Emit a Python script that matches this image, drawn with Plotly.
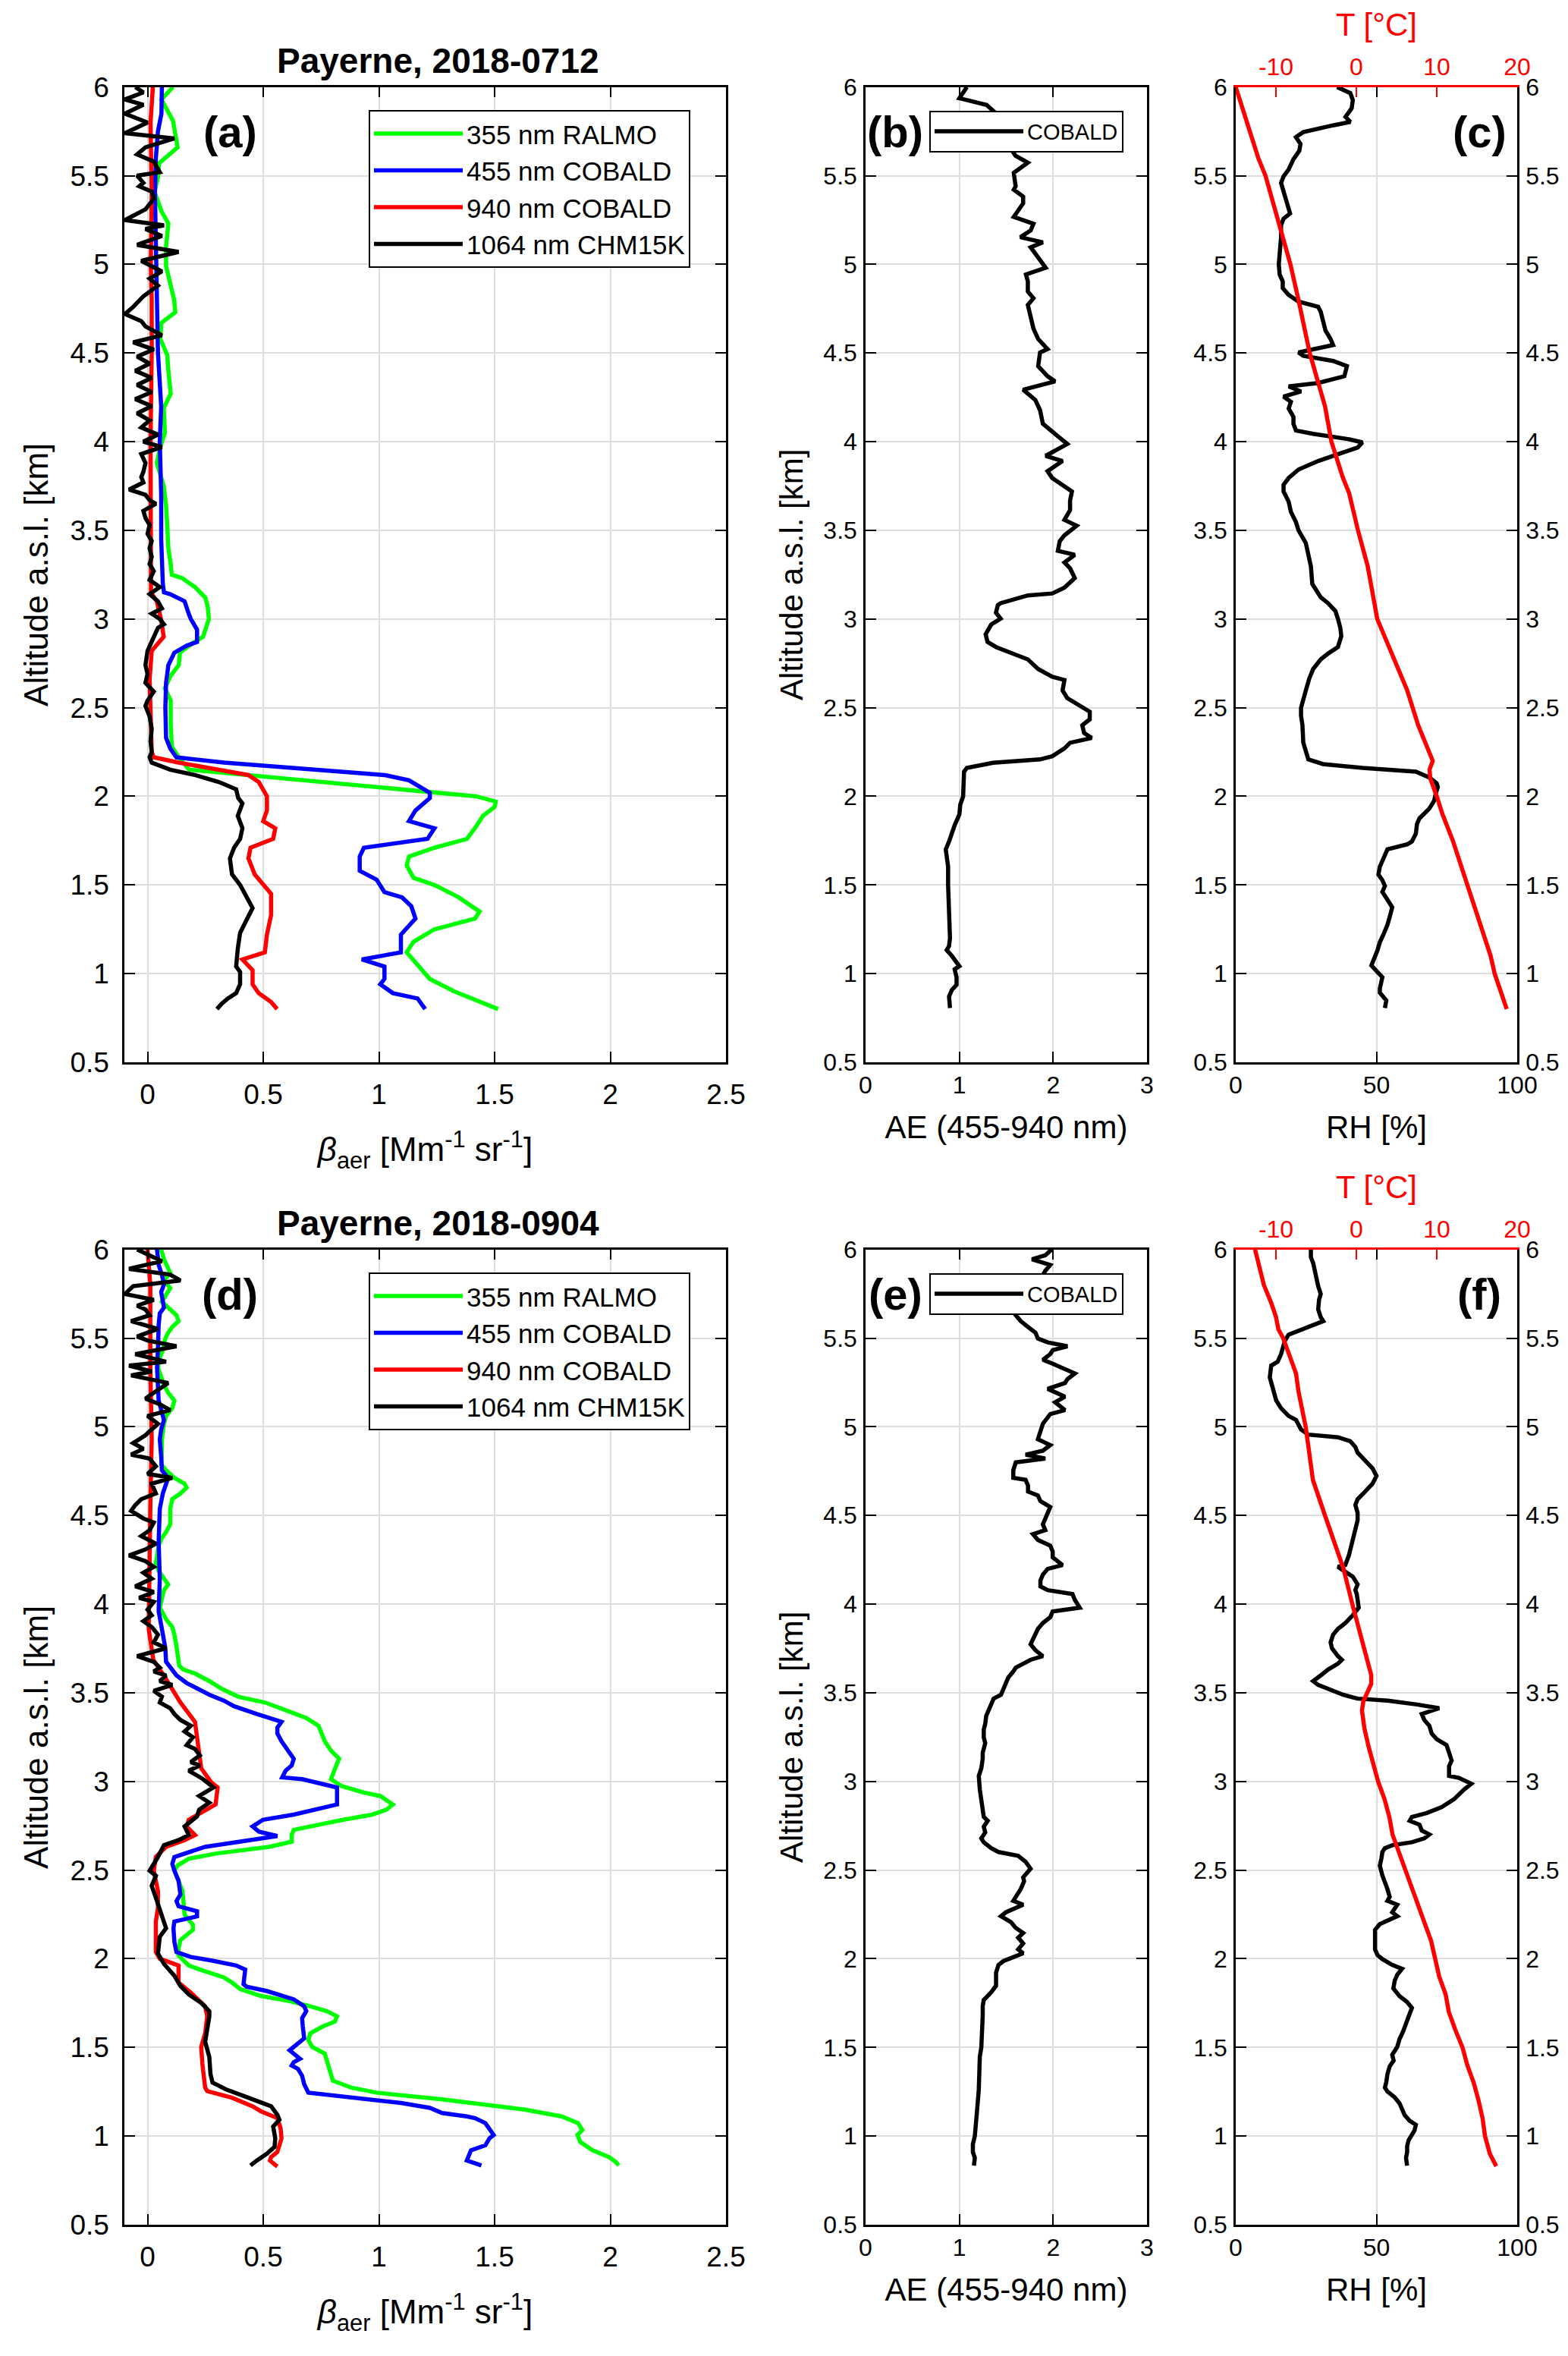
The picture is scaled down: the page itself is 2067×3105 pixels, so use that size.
"""
Perfiles verticales de aerosol sobre Payerne (2018-0712 y 2018-0904):
retrodispersión, exponente de Ångström, humedad relativa y temperatura.
"""

import plotly.graph_objects as go

FUENTE = "Liberation Sans, Arial, Helvetica, sans-serif"

# Cada perfil es una lista de pares (altitud km, valor).
# ---------------- 2018-0712 ----------------
A_355 = [(6.00, 0.11), (5.93, 0.06), (5.81, 0.11), (5.66, 0.13), (5.57, 0.05), (5.49, 0.045), (5.41, 0.03),
         (5.30, 0.06), (5.23, 0.09), (5.10, 0.08), (4.99, 0.08), (4.88, 0.10), (4.80, 0.115), (4.73, 0.12),
         (4.67, 0.06), (4.58, 0.055), (4.49, 0.085), (4.40, 0.09), (4.27, 0.10), (4.19, 0.07), (4.05, 0.075),
         (3.97, 0.055), (3.88, 0.04), (3.75, 0.07), (3.64, 0.08), (3.53, 0.085), (3.40, 0.09), (3.31, 0.10),
         (3.25, 0.105), (3.23, 0.15), (3.18, 0.205), (3.12, 0.25), (3.07, 0.26), (3.00, 0.265), (2.90, 0.24),
         (2.86, 0.19), (2.81, 0.14), (2.74, 0.135), (2.68, 0.10), (2.61, 0.075), (2.54, 0.10), (2.41, 0.10),
         (2.28, 0.105), (2.22, 0.135), (2.15, 0.18), (2.00, 1.42), (1.97, 1.505), (1.94, 1.50), (1.89, 1.45),
         (1.82, 1.415), (1.76, 1.38), (1.71, 1.24), (1.66, 1.13), (1.61, 1.12), (1.54, 1.15), (1.50, 1.24),
         (1.43, 1.345), (1.35, 1.435), (1.31, 1.415), (1.25, 1.24), (1.18, 1.15), (1.12, 1.12), (1.05, 1.165),
         (0.97, 1.22), (0.90, 1.325), (0.84, 1.435), (0.80, 1.515)]

A_455 = [(6.00, 0.062), (5.85, 0.06), (5.75, 0.045), (5.60, 0.036), (5.40, 0.032), (5.00, 0.036), (4.70, 0.041),
         (4.50, 0.045), (4.20, 0.059), (4.00, 0.053), (3.70, 0.059), (3.45, 0.059), (3.20, 0.066), (3.15, 0.071),
         (3.14, 0.098), (3.10, 0.16), (3.03, 0.178), (3.00, 0.187), (2.94, 0.214), (2.87, 0.214), (2.85, 0.17),
         (2.81, 0.116), (2.74, 0.09), (2.64, 0.08), (2.50, 0.077), (2.33, 0.08), (2.27, 0.098), (2.22, 0.125),
         (2.19, 0.33), (2.12, 1.024), (2.09, 1.13), (2.02, 1.22), (1.99, 1.22), (1.92, 1.158), (1.86, 1.13),
         (1.82, 1.24), (1.76, 1.21), (1.71, 0.935), (1.66, 0.917), (1.58, 0.917), (1.53, 0.99), (1.46, 1.024),
         (1.43, 1.10), (1.38, 1.14), (1.31, 1.158), (1.22, 1.095), (1.12, 1.095), (1.08, 0.926), (1.04, 1.024),
         (0.97, 1.024), (0.94, 1.006), (0.89, 1.06), (0.86, 1.167), (0.80, 1.20)]

A_940 = [(6.00, 0.023), (5.80, 0.013), (5.40, 0.018), (5.00, 0.014), (4.80, 0.018), (4.50, 0.018), (4.00, 0.013),
         (3.50, 0.012), (3.15, 0.015), (3.10, 0.04), (3.00, 0.058), (2.90, 0.07), (2.86, 0.045), (2.82, 0.018),
         (2.66, 0.009), (2.41, 0.013), (2.25, 0.018), (2.22, 0.027), (2.19, 0.134), (2.12, 0.436), (2.08, 0.481),
         (2.00, 0.516), (1.92, 0.516), (1.86, 0.50), (1.82, 0.552), (1.76, 0.543), (1.71, 0.445), (1.65, 0.436),
         (1.56, 0.463), (1.45, 0.534), (1.33, 0.534), (1.22, 0.516), (1.12, 0.507), (1.08, 0.41), (1.02, 0.454),
         (0.94, 0.454), (0.89, 0.48), (0.84, 0.534), (0.80, 0.56)]

A_1064 = [(6.00, -0.053), (5.97, -0.018), (5.93, -0.098), (5.90, -0.018), (5.85, -0.098), (5.80, 0.0),
          (5.74, -0.098), (5.71, 0.116), (5.66, -0.009), (5.62, -0.045), (5.58, 0.027), (5.52, 0.053),
          (5.50, -0.045), (5.46, -0.018), (5.44, -0.036), (5.41, 0.018), (5.37, 0.027), (5.31, -0.009),
          (5.25, -0.098), (5.22, 0.071), (5.20, -0.009), (5.16, 0.062), (5.11, -0.045), (5.07, 0.134),
          (5.02, -0.027), (4.96, 0.062), (4.92, 0.009), (4.88, 0.045), (4.82, -0.018), (4.76, -0.062),
          (4.72, -0.098), (4.68, -0.027), (4.65, -0.009), (4.60, 0.062), (4.56, -0.062), (4.52, 0.027),
          (4.48, -0.045), (4.44, 0.009), (4.40, -0.053), (4.36, 0.018), (4.32, -0.045), (4.28, 0.018),
          (4.24, -0.053), (4.20, 0.018), (4.16, -0.045), (4.12, 0.009), (4.08, -0.027), (4.04, 0.045),
          (4.00, -0.018), (3.97, 0.062), (3.93, -0.027), (3.88, -0.009), (3.83, -0.018), (3.80, -0.027),
          (3.77, -0.018), (3.75, -0.045), (3.73, -0.080), (3.70, -0.009), (3.67, 0.009), (3.65, 0.036),
          (3.61, -0.018), (3.57, -0.009), (3.53, 0.009), (3.48, 0.0), (3.44, 0.018), (3.40, 0.009),
          (3.35, 0.018), (3.31, 0.009), (3.27, 0.027), (3.22, 0.009), (3.18, 0.053), (3.14, 0.009),
          (3.10, 0.045), (3.06, 0.062), (3.03, 0.018), (3.00, 0.053), (2.97, 0.071), (2.95, 0.045),
          (2.90, 0.027), (2.82, 0.0), (2.74, -0.009), (2.69, 0.0), (2.64, -0.009), (2.59, 0.027), (2.54, 0.0),
          (2.51, -0.009), (2.45, 0.009), (2.38, 0.018), (2.31, 0.013), (2.25, 0.018), (2.22, 0.009),
          (2.19, 0.018), (2.15, 0.098), (2.12, 0.205), (2.08, 0.31), (2.04, 0.383), (1.99, 0.392), (1.96, 0.41),
          (1.89, 0.39), (1.82, 0.41), (1.76, 0.40), (1.71, 0.374), (1.65, 0.356), (1.56, 0.365), (1.50, 0.40),
          (1.43, 0.427), (1.37, 0.454), (1.30, 0.427), (1.23, 0.40), (1.14, 0.39), (1.04, 0.383), (1.01, 0.40),
          (0.94, 0.40), (0.89, 0.383), (0.86, 0.347), (0.83, 0.32), (0.80, 0.30)]

AE_0712 = [(6.000, 1.08), (5.937, 1.00), (5.899, 1.29), (5.80, 1.50), (5.70, 1.55), (5.650, 1.55), (5.612, 1.60),
           (5.574, 1.73), (5.516, 1.58), (5.440, 1.60), (5.421, 1.58), (5.382, 1.68), (5.344, 1.68), (5.268, 1.58),
           (5.229, 1.79), (5.191, 1.76), (5.153, 1.65), (5.124, 1.89), (5.096, 1.76), (5.038, 1.84), (4.981, 1.92),
           (4.943, 1.71), (4.904, 1.73), (4.847, 1.73), (4.809, 1.79), (4.771, 1.73), (4.713, 1.76), (4.637, 1.79),
           (4.579, 1.84), (4.522, 1.94), (4.503, 1.86), (4.426, 1.84), (4.369, 1.94), (4.340, 2.02), (4.293, 1.68),
           (4.235, 1.81), (4.178, 1.86), (4.101, 1.89), (4.044, 2.02), (3.987, 2.15), (3.920, 1.92), (3.891, 2.10),
           (3.834, 1.94), (3.795, 1.99), (3.719, 2.20), (3.668, 2.18), (3.614, 2.18), (3.559, 2.12), (3.526, 2.25),
           (3.472, 2.12), (3.439, 2.07), (3.384, 2.05), (3.362, 2.23), (3.319, 2.12), (3.286, 2.18), (3.231, 2.23),
           (3.177, 2.12), (3.144, 1.99), (3.133, 1.73), (3.089, 1.44), (3.078, 1.41), (3.035, 1.39), (3.002, 1.44),
           (2.969, 1.34), (2.914, 1.28), (2.871, 1.30), (2.842, 1.39), (2.805, 1.57), (2.772, 1.73), (2.718, 1.84),
           (2.674, 1.99), (2.656, 2.12), (2.597, 2.10), (2.554, 2.15), (2.521, 2.25), (2.477, 2.39), (2.434, 2.39),
           (2.401, 2.31), (2.357, 2.33), (2.329, 2.41), (2.302, 2.18), (2.270, 2.12), (2.226, 1.99), (2.208, 1.86),
           (2.189, 1.36), (2.160, 1.08), (2.139, 1.05), (2.095, 1.05), (1.999, 1.04), (1.953, 1.01), (1.898, 1.00),
           (1.837, 0.95), (1.800, 0.93), (1.745, 0.89), (1.701, 0.855), (1.658, 0.865), (1.603, 0.88), (1.500, 0.88),
           (1.400, 0.89), (1.299, 0.90), (1.199, 0.90), (1.155, 0.89), (1.133, 0.865), (1.100, 0.92), (1.068, 0.97),
           (1.042, 1.00), (1.024, 0.95), (0.980, 0.97), (0.937, 0.97), (0.908, 0.92), (0.871, 0.89), (0.838, 0.90),
           (0.806, 0.90)]

RH_0712 = [(6.000, 36.0), (5.966, 40.7), (5.927, 41.6), (5.880, 41.2), (5.832, 39.0), (5.803, 40.7), (5.784, 34.6),
           (5.746, 24.0), (5.717, 21.4), (5.679, 23.0), (5.641, 22.6), (5.593, 20.5), (5.535, 18.8), (5.497, 17.0),
           (5.459, 16.1), (5.411, 17.0), (5.363, 17.9), (5.325, 18.8), (5.287, 19.3), (5.258, 17.0), (5.220, 16.1),
           (5.153, 16.1), (5.086, 15.8), (5.000, 15.3), (4.943, 15.6), (4.904, 16.7), (4.866, 16.7), (4.828, 18.8),
           (4.790, 22.3), (4.761, 29.3), (4.732, 30.2), (4.675, 31.0), (4.627, 31.9), (4.579, 33.7), (4.545, 34.6),
           (4.503, 22.3), (4.484, 24.0), (4.455, 34.6), (4.426, 39.5), (4.369, 38.6), (4.331, 29.3), (4.312, 18.8),
           (4.283, 23.2), (4.254, 17.0), (4.225, 19.6), (4.187, 18.8), (4.140, 20.5), (4.101, 20.5), (4.063, 21.4),
           (4.044, 27.5), (4.015, 39.8), (3.996, 45.0), (3.967, 43.3), (3.929, 36.3), (3.891, 29.3), (3.843, 22.3),
           (3.795, 18.8), (3.757, 17.0), (3.719, 17.0), (3.662, 18.8), (3.604, 19.6), (3.547, 21.4), (3.500, 22.3),
           (3.428, 24.9), (3.362, 25.8), (3.297, 26.7), (3.198, 27.2), (3.144, 29.3), (3.122, 30.2), (3.089, 32.8),
           (3.045, 35.4), (3.002, 36.3), (2.947, 37.2), (2.903, 37.5), (2.842, 36.3), (2.805, 32.8), (2.772, 30.2),
           (2.718, 27.5), (2.663, 26.1), (2.597, 24.9), (2.554, 24.0), (2.499, 23.2), (2.455, 23.2), (2.401, 23.7),
           (2.302, 24.0), (2.248, 24.9), (2.208, 25.8), (2.182, 31.0), (2.160, 45.0), (2.139, 64.0), (2.106, 68.8),
           (2.073, 71.4), (2.051, 71.8), (2.018, 71.1), (1.975, 70.5), (1.931, 68.8), (1.876, 65.3), (1.844, 64.4),
           (1.789, 64.0), (1.745, 62.6), (1.730, 61.0), (1.701, 53.9), (1.669, 53.0), (1.603, 51.2), (1.559, 50.7),
           (1.527, 52.1), (1.494, 53.0), (1.461, 52.1), (1.417, 53.9), (1.374, 55.6), (1.319, 54.7), (1.275, 53.9),
           (1.221, 52.5), (1.177, 51.2), (1.133, 50.4), (1.090, 49.5), (1.046, 48.2), (1.024, 49.5), (0.980, 52.1),
           (0.915, 51.2), (0.893, 51.2), (0.849, 53.5), (0.806, 53.0)]

T_0712 = [(6.0, -15.0), (5.8, -13.6), (5.6, -12.2), (5.5, -11.3), (5.35, -10.4), (5.2, -9.4), (5.0, -8.2),
          (4.8, -7.2), (4.5, -5.8), (4.2, -3.9), (4.0, -3.1), (3.8, -1.7), (3.71, -0.9), (3.5, 0.2), (3.3, 1.4),
          (3.0, 2.6), (2.8, 4.5), (2.6, 6.3), (2.4, 7.7), (2.25, 9.1), (2.2, 9.5), (2.15, 9.1), (2.1, 9.2),
          (2.0, 10.0), (1.9, 10.7), (1.75, 12.0), (1.5, 13.8), (1.3, 15.2), (1.1, 16.7), (1.0, 17.2), (0.9, 18.0),
          (0.8, 18.7)]

# ---------------- 2018-0904 ----------------
D_355 = [(6.000, 0.059), (5.945, 0.071), (5.869, 0.098), (5.825, 0.071), (5.782, 0.098), (5.738, 0.080),
         (5.705, 0.062), (5.672, 0.089), (5.629, 0.125), (5.596, 0.134), (5.563, 0.107), (5.531, 0.089),
         (5.498, 0.077), (5.432, 0.066), (5.389, 0.053), (5.334, 0.045), (5.269, 0.062), (5.236, 0.071),
         (5.192, 0.089), (5.148, 0.116), (5.105, 0.107), (5.061, 0.080), (5.017, 0.071), (4.930, 0.062),
         (4.854, 0.062), (4.788, 0.059), (4.755, 0.080), (4.712, 0.116), (4.679, 0.160), (4.657, 0.169),
         (4.624, 0.142), (4.592, 0.107), (4.537, 0.098), (4.450, 0.098), (4.406, 0.080), (4.373, 0.062),
         (4.330, 0.048), (4.275, 0.041), (4.231, 0.036), (4.188, 0.048), (4.144, 0.071), (4.111, 0.089),
         (4.079, 0.071), (4.024, 0.059), (3.980, 0.053), (3.959, 0.062), (3.915, 0.080), (3.871, 0.107),
         (3.828, 0.116), (3.762, 0.125), (3.697, 0.130), (3.653, 0.137), (3.631, 0.155), (3.609, 0.205),
         (3.566, 0.267), (3.522, 0.321), (3.478, 0.392), (3.445, 0.508), (3.402, 0.597), (3.358, 0.686),
         (3.314, 0.739), (3.260, 0.757), (3.227, 0.766), (3.173, 0.793), (3.129, 0.828), (3.071, 0.810),
         (3.013, 0.793), (2.975, 0.837), (2.937, 0.935), (2.918, 1.006), (2.889, 1.042), (2.870, 1.060),
         (2.841, 1.033), (2.813, 0.971), (2.784, 0.846), (2.755, 0.739), (2.727, 0.632), (2.698, 0.623),
         (2.660, 0.623), (2.631, 0.525), (2.593, 0.294), (2.564, 0.178), (2.526, 0.130), (2.497, 0.116),
         (2.440, 0.134), (2.382, 0.151), (2.325, 0.155), (2.249, 0.160), (2.220, 0.178), (2.191, 0.196),
         (2.163, 0.196), (2.134, 0.169), (2.105, 0.142), (2.057, 0.134), (2.019, 0.134), (1.996, 0.151),
         (1.962, 0.178), (1.933, 0.240), (1.895, 0.329), (1.866, 0.365), (1.828, 0.401), (1.790, 0.490),
         (1.761, 0.614), (1.732, 0.703), (1.704, 0.775), (1.675, 0.819), (1.646, 0.810), (1.618, 0.757),
         (1.579, 0.703), (1.541, 0.695), (1.503, 0.712), (1.465, 0.766), (1.426, 0.775), (1.369, 0.784),
         (1.312, 0.801), (1.273, 0.882), (1.245, 0.988), (1.207, 1.273), (1.178, 1.451), (1.149, 1.630),
         (1.111, 1.790), (1.073, 1.861), (1.034, 1.879), (1.006, 1.858), (0.967, 1.870), (0.920, 1.923),
         (0.881, 1.995), (0.853, 2.025), (0.834, 2.036)]

D_455 = [(6.000, 0.041), (5.913, 0.048), (5.858, 0.062), (5.803, 0.071), (5.760, 0.059), (5.672, 0.071),
         (5.640, 0.053), (5.574, 0.048), (5.432, 0.045), (5.334, 0.041), (5.148, 0.048), (5.083, 0.062),
         (5.039, 0.071), (4.985, 0.059), (4.930, 0.053), (4.832, 0.059), (4.755, 0.062), (4.712, 0.089),
         (4.679, 0.080), (4.624, 0.066), (4.537, 0.053), (4.352, 0.048), (4.144, 0.053), (3.959, 0.048),
         (3.860, 0.062), (3.751, 0.077), (3.675, 0.080), (3.642, 0.098), (3.598, 0.125), (3.555, 0.169),
         (3.522, 0.214), (3.489, 0.267), (3.456, 0.329), (3.424, 0.374), (3.380, 0.472), (3.336, 0.579),
         (3.303, 0.561), (3.271, 0.561), (3.227, 0.579), (3.166, 0.614), (3.128, 0.632), (3.090, 0.623),
         (3.061, 0.597), (3.023, 0.582), (3.013, 0.668), (2.966, 0.819), (2.870, 0.819), (2.813, 0.632),
         (2.784, 0.499), (2.746, 0.454), (2.717, 0.481), (2.692, 0.561), (2.631, 0.249), (2.574, 0.116),
         (2.535, 0.107), (2.497, 0.116), (2.440, 0.134), (2.363, 0.142), (2.325, 0.125), (2.296, 0.134),
         (2.268, 0.214), (2.239, 0.214), (2.210, 0.116), (2.172, 0.112), (2.096, 0.116), (2.038, 0.125),
         (2.010, 0.187), (1.990, 0.276), (1.962, 0.383), (1.939, 0.422), (1.904, 0.419), (1.857, 0.415),
         (1.843, 0.427), (1.818, 0.516), (1.771, 0.632), (1.732, 0.677), (1.704, 0.686), (1.665, 0.668),
         (1.618, 0.671), (1.551, 0.677), (1.522, 0.650), (1.484, 0.614), (1.436, 0.659), (1.417, 0.632),
         (1.398, 0.623), (1.379, 0.650), (1.340, 0.668), (1.293, 0.677), (1.245, 0.695), (1.216, 0.917),
         (1.187, 1.095), (1.159, 1.220), (1.130, 1.273), (1.111, 1.380), (1.101, 1.416), (1.073, 1.460),
         (1.044, 1.478), (1.006, 1.496), (0.987, 1.478), (0.948, 1.460), (0.920, 1.398), (0.881, 1.384),
         (0.862, 1.380), (0.834, 1.443)]

D_940 = [(6.000, 0.000), (5.803, 0.012), (5.334, 0.012), (4.930, 0.018), (4.537, 0.012), (4.144, 0.009),
         (3.860, 0.005), (3.686, 0.025), (3.598, 0.070), (3.445, 0.142), (3.336, 0.205), (3.249, 0.214),
         (3.162, 0.223), (3.074, 0.232), (2.994, 0.276), (2.966, 0.303), (2.870, 0.294), (2.822, 0.232),
         (2.784, 0.178), (2.746, 0.169), (2.698, 0.205), (2.669, 0.160), (2.631, 0.080), (2.574, 0.036),
         (2.497, 0.027), (2.382, 0.045), (2.287, 0.045), (2.210, 0.036), (2.038, 0.036), (2.000, 0.053),
         (1.962, 0.134), (1.866, 0.134), (1.809, 0.187), (1.732, 0.249), (1.675, 0.258), (1.579, 0.249),
         (1.503, 0.232), (1.407, 0.237), (1.273, 0.249), (1.254, 0.258), (1.216, 0.365), (1.168, 0.454),
         (1.140, 0.490), (1.101, 0.561), (1.044, 0.575), (0.987, 0.579), (0.910, 0.561), (0.881, 0.534),
         (0.862, 0.529), (0.828, 0.561)]

D_1064 = [(6.000, -0.045), (5.978, -0.009), (5.934, 0.062), (5.891, -0.080), (5.858, 0.098), (5.825, 0.142),
          (5.793, -0.062), (5.749, -0.098), (5.716, 0.027), (5.683, -0.045), (5.662, -0.009), (5.629, 0.009),
          (5.596, -0.071), (5.552, 0.045), (5.509, -0.045), (5.487, 0.000), (5.454, 0.125), (5.410, -0.053),
          (5.367, 0.080), (5.345, -0.080), (5.312, 0.018), (5.290, -0.071), (5.247, 0.089), (5.192, 0.027),
          (5.159, -0.009), (5.127, 0.053), (5.094, 0.098), (5.061, 0.000), (5.017, 0.045), (4.985, 0.018),
          (4.952, -0.009), (4.908, -0.062), (4.876, -0.018), (4.843, -0.071), (4.821, 0.009), (4.777, 0.036),
          (4.734, 0.000), (4.712, 0.107), (4.679, 0.018), (4.624, 0.036), (4.592, -0.027), (4.559, -0.053),
          (4.526, -0.071), (4.483, -0.018), (4.461, 0.027), (4.417, 0.009), (4.384, -0.027), (4.341, 0.036),
          (4.308, -0.009), (4.275, -0.080), (4.242, -0.009), (4.210, 0.027), (4.177, -0.018), (4.144, 0.018),
          (4.100, -0.053), (4.068, 0.027), (4.035, -0.036), (4.013, 0.027), (3.969, 0.000), (3.937, 0.018),
          (3.904, -0.018), (3.871, 0.018), (3.828, 0.045), (3.784, 0.027), (3.751, 0.080), (3.707, -0.045),
          (3.675, 0.027), (3.642, 0.053), (3.620, 0.027), (3.598, 0.080), (3.566, 0.053), (3.544, 0.107),
          (3.511, 0.027), (3.478, 0.062), (3.445, 0.053), (3.413, 0.098), (3.380, 0.116), (3.347, 0.142),
          (3.314, 0.187), (3.282, 0.160), (3.249, 0.196), (3.205, 0.169), (3.183, 0.205), (3.147, 0.226),
          (3.109, 0.187), (3.090, 0.226), (3.061, 0.178), (3.013, 0.240), (2.966, 0.285), (2.918, 0.223),
          (2.880, 0.267), (2.841, 0.223), (2.803, 0.214), (2.746, 0.160), (2.698, 0.178), (2.669, 0.134),
          (2.641, 0.071), (2.574, 0.045), (2.497, 0.009), (2.468, 0.036), (2.411, 0.018), (2.344, 0.036),
          (2.249, 0.062), (2.172, 0.080), (2.124, 0.053), (2.029, 0.045), (1.971, 0.071), (1.904, 0.116),
          (1.847, 0.142), (1.799, 0.178), (1.751, 0.232), (1.704, 0.267), (1.675, 0.267), (1.589, 0.255),
          (1.532, 0.249), (1.446, 0.267), (1.350, 0.272), (1.302, 0.281), (1.264, 0.338), (1.216, 0.436),
          (1.168, 0.534), (1.120, 0.561), (1.092, 0.570), (1.054, 0.543), (0.987, 0.552), (0.939, 0.549),
          (0.901, 0.516), (0.862, 0.472), (0.834, 0.445)]

AE_0904 = [(6.000, 1.984), (5.967, 1.916), (5.945, 1.774), (5.913, 1.969), (5.880, 1.916), (5.76, 1.78),
           (5.629, 1.601), (5.596, 1.654), (5.563, 1.732), (5.531, 1.811), (5.498, 1.837), (5.476, 1.942),
           (5.454, 2.152), (5.432, 1.995), (5.410, 1.969), (5.378, 1.890), (5.356, 1.995), (5.323, 2.126),
           (5.301, 2.231), (5.269, 2.152), (5.247, 2.126), (5.214, 1.942), (5.192, 2.047), (5.170, 2.126),
           (5.138, 2.021), (5.094, 2.126), (5.072, 1.969), (5.039, 1.916), (5.017, 1.890), (4.974, 1.864),
           (4.930, 1.837), (4.897, 1.969), (4.865, 1.890), (4.843, 1.706), (4.821, 1.916), (4.799, 1.601),
           (4.755, 1.575), (4.712, 1.575), (4.701, 1.706), (4.668, 1.732), (4.635, 1.732), (4.613, 1.837),
           (4.581, 1.864), (4.548, 1.969), (4.515, 1.942), (4.483, 1.916), (4.450, 1.890), (4.417, 1.916),
           (4.395, 1.785), (4.362, 1.837), (4.330, 1.969), (4.297, 1.995), (4.264, 1.995), (4.220, 2.100),
           (4.199, 1.942), (4.166, 1.890), (4.133, 1.864), (4.100, 1.864), (4.079, 1.942), (4.057, 2.205),
           (4.024, 2.231), (3.980, 2.283), (3.959, 1.995), (3.926, 1.969), (3.893, 1.890), (3.860, 1.837),
           (3.828, 1.811), (3.795, 1.785), (3.773, 1.759), (3.740, 1.811), (3.707, 1.890), (3.686, 1.759),
           (3.642, 1.601), (3.620, 1.575), (3.587, 1.522), (3.555, 1.496), (3.522, 1.470), (3.489, 1.444),
           (3.467, 1.365), (3.434, 1.339), (3.402, 1.312), (3.369, 1.286), (3.325, 1.276), (3.293, 1.260),
           (3.249, 1.260), (3.216, 1.276), (3.162, 1.249), (3.129, 1.249), (3.074, 1.234), (3.031, 1.207),
           (2.954, 1.218), (2.899, 1.234), (2.855, 1.249), (2.800, 1.260), (2.778, 1.302), (2.745, 1.260),
           (2.712, 1.276), (2.679, 1.234), (2.657, 1.260), (2.624, 1.339), (2.602, 1.417), (2.580, 1.627),
           (2.547, 1.706), (2.508, 1.759), (2.459, 1.680), (2.437, 1.690), (2.393, 1.654), (2.349, 1.601),
           (2.327, 1.575), (2.305, 1.680), (2.262, 1.496), (2.240, 1.444), (2.207, 1.549), (2.174, 1.601),
           (2.145, 1.680), (2.119, 1.627), (2.086, 1.680), (2.053, 1.627), (2.031, 1.680), (2.009, 1.575),
           (1.987, 1.470), (1.965, 1.417), (1.921, 1.391), (1.848, 1.391), (1.811, 1.339), (1.767, 1.260),
           (1.734, 1.249), (1.679, 1.249), (1.580, 1.244), (1.499, 1.234), (1.448, 1.218), (1.295, 1.218),
           (1.262, 1.207), (1.196, 1.197), (1.097, 1.181), (1.000, 1.165), (0.954, 1.144), (0.910, 1.144),
           (0.877, 1.165), (0.833, 1.155)]

RH_0904 = [(6.000, 26.7), (5.956, 26.7), (5.924, 27.5), (5.847, 28.4), (5.793, 29.3), (5.749, 30.2), (5.716, 29.6),
           (5.662, 29.3), (5.618, 30.2), (5.596, 31.1), (5.574, 27.5), (5.552, 23.2), (5.520, 18.8), (5.487, 17.5),
           (5.454, 17.0), (5.410, 16.1), (5.367, 14.9), (5.345, 12.6), (5.279, 12.1), (5.247, 12.6), (5.192, 13.5),
           (5.148, 14.4), (5.105, 16.1), (5.061, 18.8), (5.039, 21.4), (5.017, 22.3), (4.985, 23.2), (4.956, 25.8),
           (4.948, 31.1), (4.941, 36.3), (4.919, 40.7), (4.886, 42.5), (4.854, 43.3), (4.810, 46.0), (4.766, 48.6),
           (4.723, 50.0), (4.679, 48.6), (4.635, 46.0), (4.592, 43.3), (4.559, 42.5), (4.515, 43.3), (4.472, 43.3),
           (4.417, 42.5), (4.373, 41.6), (4.319, 40.7), (4.275, 40.2), (4.220, 38.9), (4.210, 36.3), (4.188, 38.4),
           (4.155, 41.6), (4.111, 43.3), (4.079, 42.5), (4.057, 43.0), (4.013, 43.3), (3.980, 43.7), (3.937, 41.6),
           (3.893, 38.9), (3.860, 36.3), (3.828, 34.6), (3.784, 33.7), (3.751, 34.2), (3.707, 36.3), (3.686, 37.7),
           (3.664, 36.3), (3.631, 32.8), (3.598, 30.2), (3.566, 27.5), (3.544, 29.3), (3.522, 32.8), (3.489, 38.1),
           (3.467, 43.3), (3.456, 53.9), (3.434, 64.4), (3.413, 72.3), (3.380, 66.1), (3.347, 67.0), (3.314, 68.8),
           (3.271, 69.6), (3.238, 71.4), (3.205, 74.9), (3.162, 75.8), (3.118, 76.7), (3.085, 75.8), (3.031, 75.8),
           (3.020, 79.3), (2.987, 83.7), (2.954, 81.1), (2.899, 77.5), (2.855, 73.2), (2.822, 67.9), (2.800, 62.6),
           (2.778, 61.8), (2.756, 65.3), (2.723, 66.1), (2.701, 68.8), (2.679, 67.0), (2.657, 62.6), (2.640, 55.6),
           (2.624, 53.0), (2.602, 52.1), (2.569, 51.8), (2.525, 51.2), (2.470, 52.1), (2.437, 53.0), (2.393, 53.9),
           (2.349, 54.7), (2.327, 53.9), (2.305, 57.4), (2.284, 56.5), (2.262, 55.6), (2.240, 57.4), (2.218, 53.9),
           (2.196, 51.2), (2.163, 49.5), (2.108, 49.5), (2.053, 49.5), (2.020, 50.4), (1.998, 52.1), (1.965, 55.6),
           (1.943, 59.1), (1.910, 57.4), (1.877, 56.5), (1.833, 56.0), (1.789, 58.2), (1.756, 60.9), (1.723, 62.6),
           (1.690, 61.8), (1.646, 60.9), (1.591, 59.5), (1.547, 58.2), (1.503, 57.4), (1.459, 55.6), (1.426, 56.1),
           (1.393, 54.7), (1.349, 53.9), (1.305, 53.5), (1.273, 53.0), (1.251, 53.9), (1.218, 56.5), (1.185, 58.2),
           (1.152, 59.1), (1.119, 60.0), (1.086, 61.8), (1.064, 64.0), (1.031, 63.5), (0.998, 62.3), (0.976, 61.4),
           (0.943, 60.9), (0.910, 60.9), (0.877, 60.5), (0.844, 60.9), (0.833, 60.9)]

T_0904 = [(6.0, -12.6), (5.8, -11.5), (5.7, -10.6), (5.62, -10.0), (5.55, -9.7), (5.5, -9.1), (5.4, -8.3),
          (5.3, -7.5), (5.2, -7.2), (5.0, -6.3), (4.8, -5.7), (4.7, -5.4), (4.5, -3.9), (4.3, -2.3), (4.2, -1.6),
          (4.0, -0.5), (3.9, 0.1), (3.8, 0.7), (3.7, 1.35), (3.6, 1.85), (3.55, 1.85), (3.5, 1.35), (3.45, 0.86),
          (3.4, 0.7), (3.3, 1.0), (3.2, 1.5), (3.1, 2.1), (3.0, 2.7), (2.9, 3.5), (2.8, 4.1), (2.7, 4.5),
          (2.6, 5.3), (2.5, 6.1), (2.4, 7.0), (2.3, 7.8), (2.2, 8.6), (2.1, 9.3), (2.0, 9.8), (1.9, 10.3),
          (1.8, 11.1), (1.7, 11.5), (1.6, 12.3), (1.5, 13.2), (1.4, 13.8), (1.3, 14.6), (1.2, 15.2), (1.1, 15.7),
          (1.0, 16.0), (0.9, 16.6), (0.83, 17.4)]

TITULOS = ["Payerne, 2018-0712", "Payerne, 2018-0904"]
PANELES = [["(a)", "(b)", "(c)"], ["(d)", "(e)", "(f)"]]
NOMBRES = ["355 nm RALMO", "455 nm COBALD", "940 nm COBALD", "1064 nm CHM15K"]
COLORES = ["#00ff00", "#0000ff", "#ff0000", "#000000"]
BETA_TICKS = [0, 0.5, 1, 1.5, 2, 2.5]
AE_TICKS = [0, 1, 2, 3]
RH_TICKS = [0, 50, 100]
T_TICKS = [-10, 0, 10, 20]
T_TEXTO = ["-10", "0", "10", "20"]

# La página HTML deja 8 px de margen alrededor del gráfico.
BORDE = 8
ANCHO = 2067 - 2 * BORDE
ALTO = 3105 - 2 * BORDE
GROSOR = 5.5


def px(x):
    """Posición horizontal en píxeles de la ventana -> fracción del papel."""
    return (x - BORDE) / ANCHO


def py(y):
    """Posición vertical en píxeles de la ventana -> fracción del papel."""
    return 1 - (y - BORDE) / ALTO


def separar(pares):
    """Devuelve (valores, altitudes) a partir de la lista de pares."""
    return [p[1] for p in pares], [p[0] for p in pares]


def eje(n, letra):
    return f"{letra}axis" if n == 1 else f"{letra}axis{n}"


def ref(n, letra):
    return letra if n == 1 else f"{letra}{n}"


def estilo(tam):
    return dict(
        automargin=False,
        showline=True,
        linecolor="black",
        linewidth=2.5,
        mirror="ticks",
        ticks="inside",
        ticklen=14,
        tickwidth=2,
        tickcolor="black",
        showgrid=True,
        gridcolor="#dedede",
        gridwidth=1.5,
        zeroline=False,
        tickfont=dict(family=FUENTE, size=tam, color="black"),
    )


def main():
    fig = go.Figure()
    layout = {}
    anotaciones = []

    # Posiciones en píxeles (izquierda, derecha) de cada columna.
    columnas = [(164, 957), (1141, 1512), (1629, 2000)]
    filas = [(114.7, 1400), (1646.7, 2932)]

    datos = [
        ([A_355, A_455, A_940, A_1064], AE_0712, RH_0712, T_0712),
        ([D_355, D_455, D_940, D_1064], AE_0904, RH_0904, T_0904),
    ]

    for f, (betas, ae, rh, temp) in enumerate(datos):
        arriba, abajo = filas[f]
        dom_y = [py(abajo), py(arriba)]
        base = 4 * f
        na, nb, nc, nt = base + 1, base + 2, base + 3, base + 4
        leg_a = "legend" if f == 0 else "legend3"
        leg_b = "legend2" if f == 0 else "legend4"

        # Panel de retrodispersión
        for pares, nombre, color in zip(betas, NOMBRES, COLORES):
            x, y = separar(pares)
            fig.add_trace(
                go.Scatter(
                    x=x, y=y, mode="lines", name=nombre,
                    line=dict(color=color, width=GROSOR),
                    xaxis=ref(na, "x"), yaxis=ref(na, "y"),
                    legend=leg_a,
                )
            )

        # Panel del exponente de Ångström
        x, y = separar(ae)
        fig.add_trace(
            go.Scatter(
                x=x, y=y, mode="lines", name="COBALD",
                line=dict(color="black", width=GROSOR),
                xaxis=ref(nb, "x"), yaxis=ref(nb, "y"),
                legend=leg_b,
            )
        )

        # Humedad relativa y temperatura
        x, y = separar(rh)
        fig.add_trace(
            go.Scatter(
                x=x, y=y, mode="lines", showlegend=False,
                line=dict(color="black", width=GROSOR),
                xaxis=ref(nc, "x"), yaxis=ref(nc, "y"),
            )
        )
        x, y = separar(temp)
        fig.add_trace(
            go.Scatter(
                x=x, y=y, mode="lines", showlegend=False,
                line=dict(color="#ff0000", width=GROSOR),
                xaxis=ref(nt, "x"), yaxis=ref(nt, "y"),
            )
        )

        eje_y = dict(range=[0.5, 6], tick0=0.5, dtick=0.5)
        titulo_alt = "Altitude a.s.l. [km]"

        # Ejes del panel (a)/(d)
        xa = estilo(37)
        xa.update(
            domain=[px(columnas[0][0]), px(columnas[0][1])],
            anchor=ref(na, "y"), range=[-0.1, 2.5], tickvals=BETA_TICKS,
            ticklabelstandoff=8,
            title=dict(
                text="<i>β</i><sub>aer</sub> [Mm<sup>-1</sup> sr<sup>-1</sup>]",
                font=dict(family=FUENTE, size=44, color="black"), standoff=38,
            ),
        )
        ya = estilo(37)
        ya.update(
            domain=dom_y, anchor=ref(na, "x"), ticklabelstandoff=10,
            title=dict(text=titulo_alt, font=dict(family=FUENTE, size=44, color="black"), standoff=16),
            **eje_y,
        )
        layout[eje(na, "x")] = xa
        layout[eje(na, "y")] = ya

        # Ejes del panel (b)/(e)
        xb = estilo(32)
        xb.update(
            domain=[px(columnas[1][0]), px(columnas[1][1])],
            anchor=ref(nb, "y"), range=[0, 3], tickvals=AE_TICKS,
            title=dict(text="AE (455-940 nm)", font=dict(family=FUENTE, size=42, color="black"), standoff=24),
        )
        yb = estilo(32)
        yb.update(
            domain=dom_y, anchor=ref(nb, "x"), ticklabelstandoff=2,
            title=dict(text=titulo_alt, font=dict(family=FUENTE, size=42, color="black"), standoff=14),
            **eje_y,
        )
        layout[eje(nb, "x")] = xb
        layout[eje(nb, "y")] = yb

        # Ejes del panel (c)/(f): HR abajo, T arriba, altitud a ambos lados
        xc = estilo(32)
        xc.update(
            domain=[px(columnas[2][0]), px(columnas[2][1])],
            anchor=ref(nc, "y"), range=[0, 100], tickvals=RH_TICKS,
            title=dict(text="RH [%]", font=dict(family=FUENTE, size=42, color="black"), standoff=24),
        )
        yc = estilo(32)
        yc.update(domain=dom_y, anchor=ref(nc, "x"), mirror=False, ticklabelstandoff=2, **eje_y)
        xt = estilo(32)
        xt.update(
            overlaying=ref(nc, "x"), side="top", anchor=ref(nc, "y"), range=[-15, 20],
            tickvals=T_TICKS, ticktext=T_TEXTO, mirror=False, showgrid=False,
            linecolor="#ff0000", tickcolor="#ff0000",
            tickfont=dict(family=FUENTE, size=32, color="#ff0000"),
            title=dict(text="T [°C]", font=dict(family=FUENTE, size=42, color="#ff0000"), standoff=10),
        )
        yt = estilo(32)
        yt.update(
            overlaying=ref(nc, "y"), side="right", anchor=ref(nc, "x"), mirror=False,
            showgrid=False, ticklabelstandoff=2, **eje_y,
        )
        layout[eje(nc, "x")] = xc
        layout[eje(nc, "y")] = yc
        layout[eje(nt, "x")] = xt
        layout[eje(nt, "y")] = yt

        # Leyendas
        layout[leg_a] = dict(
            x=px(486), y=py(arriba + 30), xanchor="left", yanchor="top",
            bgcolor="white", bordercolor="black", borderwidth=2, itemwidth=117,
            font=dict(family=FUENTE, size=35, color="black"),
        )
        layout[leg_b] = dict(
            x=px(1225), y=py(arriba + 31), xanchor="left", yanchor="top",
            bgcolor="white", bordercolor="black", borderwidth=2, itemwidth=117,
            font=dict(family=FUENTE, size=29, color="black"),
        )

        # Título y etiquetas de panel
        anotaciones.append(
            dict(
                x=px(577), y=py(arriba - 35), xref="paper", yref="paper",
                text=f"<b>{TITULOS[f]}</b>", showarrow=False,
                font=dict(family=FUENTE, size=46, color="black"),
                xanchor="center", yanchor="middle",
            )
        )
        for etiqueta, cx in zip(PANELES[f], [303, 1180, 1950]):
            anotaciones.append(
                dict(
                    x=px(cx), y=py(arriba + 59), xref="paper", yref="paper",
                    text=f"<b>{etiqueta}</b>", showarrow=False,
                    font=dict(family=FUENTE, size=58, color="black"),
                    xanchor="center", yanchor="middle",
                )
            )

    fig.update_layout(
        template="none",
        width=ANCHO,
        height=ALTO,
        margin=dict(l=0, r=0, t=0, b=0),
        paper_bgcolor="white",
        plot_bgcolor="white",
        font=dict(family=FUENTE, color="black"),
        annotations=anotaciones,
        **layout,
    )

    fig.write_html("out.html")


if __name__ == "__main__":
    main()
